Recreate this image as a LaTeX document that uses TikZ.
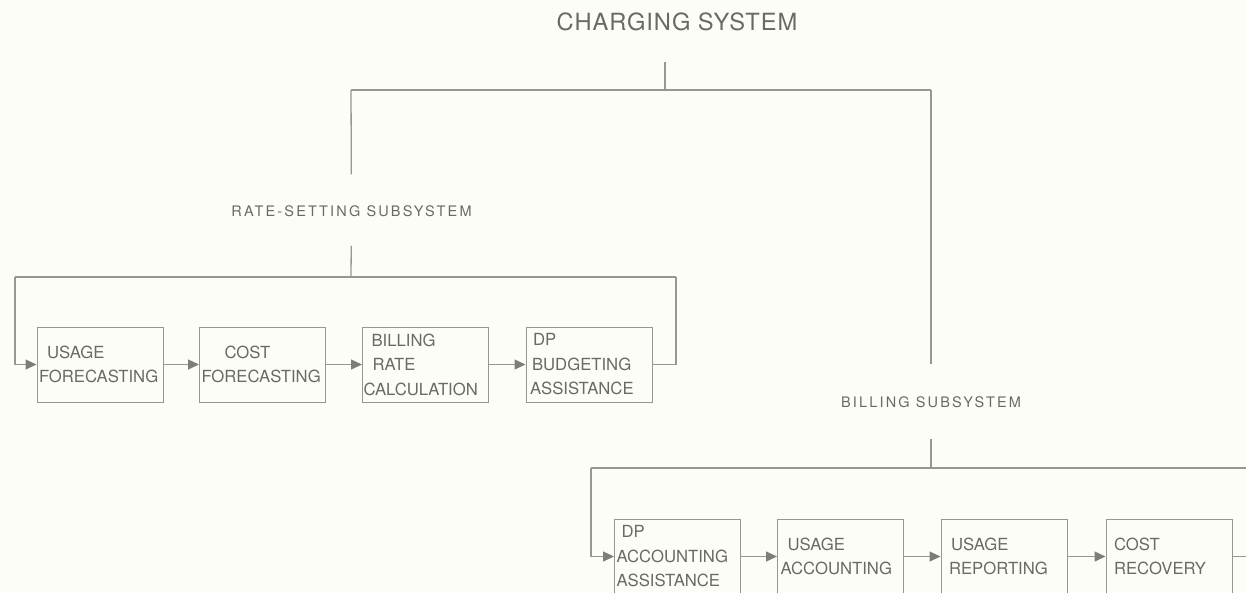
\documentclass[tikz,border=0pt]{standalone}
\usepackage{fontspec}
\setmainfont{TeX Gyre Heros}
\newfontfamily\titlefont[LetterSpace=4]{TeX Gyre Heros}
\newfontfamily\subfont[LetterSpace=15]{TeX Gyre Heros}
\usetikzlibrary{arrows.meta}
\definecolor{paper}{RGB}{253,253,248}
\definecolor{ink}{RGB}{105,105,105}
\definecolor{wire}{RGB}{150,150,150}
\definecolor{tip}{RGB}{125,125,125}

\begin{document}
\begin{tikzpicture}[x=1pt,y=-1pt,font=\fontsize{16.7}{24.5}\selectfont,text=ink,
box/.style={draw=wire,line width=1pt,minimum width=126pt,minimum height=75pt,inner sep=0pt,text width=126pt,align=left},
sub/.style={font=\subfont\fontsize{14.5}{16}\selectfont,inner sep=0pt},
link/.style={draw=wire,line width=1.3pt},
arr/.style={link,-{Triangle[length=11pt,width=10pt,color=tip]}}]
\useasboundingbox (0,0) rectangle (1246,592);
\fill[paper] (0,0) rectangle (1246,592);
\clip (0,0) rectangle (1246,592);
% headings
\node[font=\titlefont\fontsize{23.7}{28}\selectfont,inner sep=0pt] (chg) at (677,21.5) {CHARGING SYSTEM};
\node[sub] (rate) at (351.5,211) {RATE-SETTING SUBSYSTEM};
\node[sub] (bill) at (931,402) {BILLING SUBSYSTEM};
% rate-setting boxes
\node[box] (usefc) at (100,364.5) {\hspace*{10pt}USAGE\\\hspace*{2pt}FORECASTING};
\node[box] (costfc) at (262.5,364.5) {\hspace*{25pt}COST\\\hspace*{2pt}FORECASTING};
\node[box] (ratecalc) at (425.5,364.5) {\hspace*{9pt}BILLING\\\hspace*{10pt}RATE\\\hspace*{1pt}CALCULATION};
\node[box] (dpbud) at (589,364.5) {\hspace*{7pt}DP\\\hspace*{6pt}BUDGETING\\\hspace*{4pt}ASSISTANCE};
% billing boxes
\node[box] (dpacc) at (677.5,556.5) {\hspace*{7pt}DP\\\hspace*{2pt}ACCOUNTING\\\hspace*{2pt}ASSISTANCE};
\node[box] (useacc) at (840.5,556.5) {\hspace*{10pt}USAGE\\\hspace*{3pt}ACCOUNTING};
\node[box] (userep) at (1004,556.5) {\hspace*{10pt}USAGE\\\hspace*{8pt}REPORTING};
\node[box] (costrec) at (1169,556.5) {\hspace*{8pt}COST\\\hspace*{8pt}RECOVERY};
% bus points
\coordinate (top) at (665,90);
\coordinate (tl) at (351,90); \coordinate (tr) at (931,90);
\coordinate (rbus) at (351,277); \coordinate (rl) at (15,277); \coordinate (rr) at (676,277);
\coordinate (bbus) at (931,468); \coordinate (bl) at (591,468); \coordinate (br) at (1258,468);
% tree
\draw[link,shorten <=31pt] (chg.south -| top) -- (top);
\draw[link] (tl) -- (tr);
\draw[link,shorten >=31pt] (tl) -- (rate);
\draw[link,shorten >=32pt] (tr) -- (bill);
\draw[link,shorten <=29pt] (rate) -- (rbus);
\draw[link,shorten <=31pt] (bill) -- (bbus);
% rate-setting chain
\draw[link] (rl) -- (rr);
\draw[arr] (rl) |- (usefc);
\draw[arr] (usefc) -- (costfc); \draw[arr] (costfc) -- (ratecalc); \draw[arr] (ratecalc) -- (dpbud);
\draw[link] (dpbud) -| (rr);
% billing chain
\draw[link] (bl) -- (br);
\draw[arr] (bl) |- (dpacc);
\draw[arr] (dpacc) -- (useacc); \draw[arr] (useacc) -- (userep); \draw[arr] (userep) -- (costrec);
\draw[link] (costrec) -| (br);
\end{tikzpicture}
\end{document}
